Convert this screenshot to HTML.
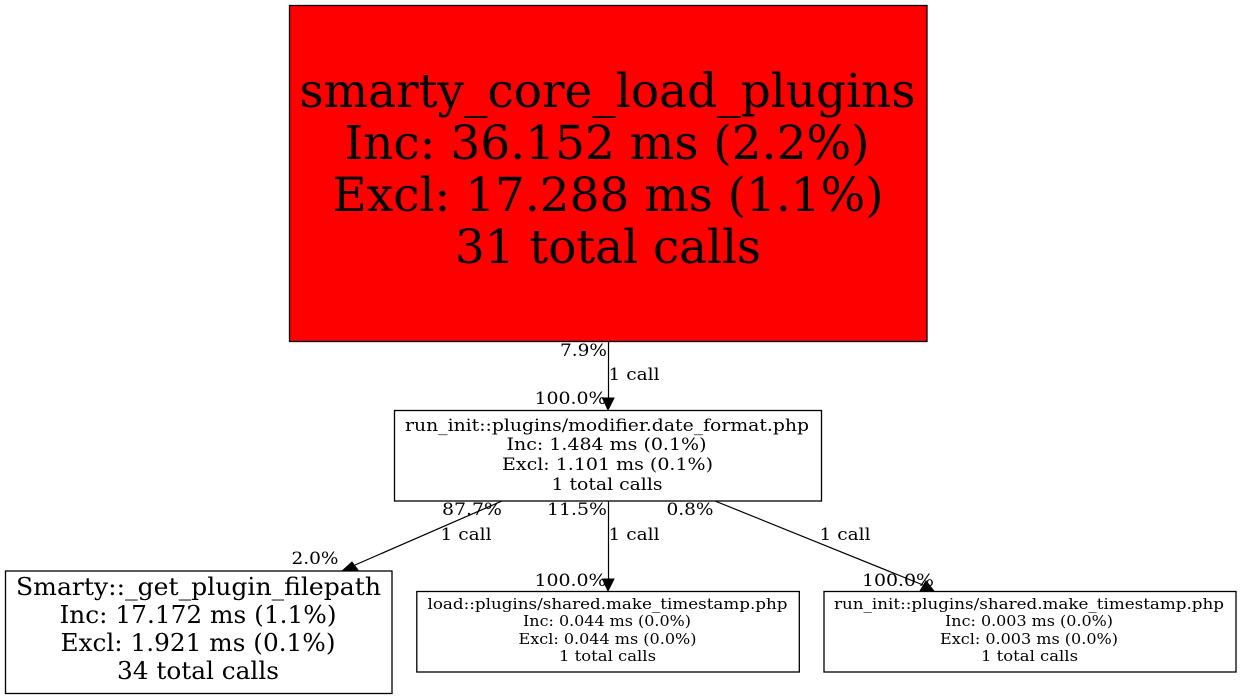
<!DOCTYPE html>
<html>
<head>
<meta charset="utf-8">
<style>
html,body{margin:0;padding:0;background:#fff;width:1240px;height:699px;overflow:hidden}
svg{display:block}
text{font-family:"DejaVu Serif",serif;fill:#000;text-anchor:middle}
.top{font-size:47px}
.mid{font-size:17.2px}
.lft{font-size:24.6px}
.sml{font-size:15.3px}
.e{font-size:17.2px}
rect.n{stroke:#000;stroke-width:1.3}
</style>
</head>
<body>
<svg width="1240" height="699" viewBox="0 0 1240 699" xmlns="http://www.w3.org/2000/svg">
<rect width="1240" height="699" fill="#fff"/>

<g stroke="#000" stroke-width="1.2" fill="none">
<path d="M608.500 342V399"/>
<path d="M502 501L355 565"/>
<path d="M608.500 501V580"/>
<path d="M715 501L923 585"/>
</g>
<g fill="#000" stroke="#000" stroke-width="1">
<polygon points="602.500,398 614,398 608,410"/>
<polygon points="352,562 358,570 342,571"/>
<polygon points="602.500,579 614,579 608,591"/>
<polygon points="926,581 920,591 934,591"/>
</g>

<rect class="n" x="289.500" y="5.500" width="637.500" height="336" fill="#ff0000"/>
<text class="top" x="607.500" y="107" textLength="616" lengthAdjust="spacingAndGlyphs">smarty_core_load_plugins</text>
<text class="top" x="607" y="159" textLength="525" lengthAdjust="spacingAndGlyphs">Inc: 36.152 ms (2.2%)</text>
<text class="top" x="608" y="211" textLength="551" lengthAdjust="spacingAndGlyphs">Excl: 17.288 ms (1.1%)</text>
<text class="top" x="608" y="263" textLength="306" lengthAdjust="spacingAndGlyphs">31 total calls</text>

<rect class="n" x="394.500" y="410.500" width="427" height="90.500" fill="#fff"/>
<text class="mid" x="607" y="431" textLength="404" lengthAdjust="spacingAndGlyphs">run_init::plugins/modifier.date_format.php</text>
<text class="mid" x="606.500" y="450" textLength="200" lengthAdjust="spacingAndGlyphs">Inc: 1.484 ms (0.1%)</text>
<text class="mid" x="607.500" y="470" textLength="211" lengthAdjust="spacingAndGlyphs">Excl: 1.101 ms (0.1%)</text>
<text class="mid" x="607" y="490" textLength="111" lengthAdjust="spacingAndGlyphs">1 total calls</text>

<rect class="n" x="5.500" y="571" width="386.500" height="122.500" fill="#fff"/>
<text class="lft" x="198.500" y="595" textLength="365" lengthAdjust="spacingAndGlyphs">Smarty::_get_plugin_filepath</text>
<text class="lft" x="198" y="623" textLength="277" lengthAdjust="spacingAndGlyphs">Inc: 17.172 ms (1.1%)</text>
<text class="lft" x="198" y="651" textLength="275" lengthAdjust="spacingAndGlyphs">Excl: 1.921 ms (0.1%)</text>
<text class="lft" x="198" y="679" textLength="162" lengthAdjust="spacingAndGlyphs">34 total calls</text>

<rect class="n" x="416.800" y="591.500" width="382.500" height="80.500" fill="#fff"/>
<text class="sml" x="607.500" y="609" textLength="360" lengthAdjust="spacingAndGlyphs">load::plugins/shared.make_timestamp.php</text>
<text class="sml" x="607" y="626" textLength="168" lengthAdjust="spacingAndGlyphs">Inc: 0.044 ms (0.0%)</text>
<text class="sml" x="607.500" y="644" textLength="178" lengthAdjust="spacingAndGlyphs">Excl: 0.044 ms (0.0%)</text>
<text class="sml" x="607.500" y="661" textLength="97" lengthAdjust="spacingAndGlyphs">1 total calls</text>

<rect class="n" x="824" y="591.500" width="412" height="80.500" fill="#fff"/>
<text class="sml" x="1029" y="609" textLength="390" lengthAdjust="spacingAndGlyphs">run_init::plugins/shared.make_timestamp.php</text>
<text class="sml" x="1029" y="626" textLength="168" lengthAdjust="spacingAndGlyphs">Inc: 0.003 ms (0.0%)</text>
<text class="sml" x="1029" y="644" textLength="178" lengthAdjust="spacingAndGlyphs">Excl: 0.003 ms (0.0%)</text>
<text class="sml" x="1029.500" y="661" textLength="97" lengthAdjust="spacingAndGlyphs">1 total calls</text>

<text class="e" x="583.500" y="356" textLength="47" lengthAdjust="spacingAndGlyphs">7.9%</text>
<text class="e" x="634" y="380" textLength="51" lengthAdjust="spacingAndGlyphs">1 call</text>
<text class="e" x="570.500" y="404" textLength="72" lengthAdjust="spacingAndGlyphs">100.0%</text>
<text class="e" x="472" y="515" textLength="60" lengthAdjust="spacingAndGlyphs">87.7%</text>
<text class="e" x="466" y="540" textLength="51" lengthAdjust="spacingAndGlyphs">1 call</text>
<text class="e" x="577" y="515" textLength="60" lengthAdjust="spacingAndGlyphs">11.5%</text>
<text class="e" x="634" y="540" textLength="51" lengthAdjust="spacingAndGlyphs">1 call</text>
<text class="e" x="690" y="515" textLength="47" lengthAdjust="spacingAndGlyphs">0.8%</text>
<text class="e" x="845" y="540" textLength="51" lengthAdjust="spacingAndGlyphs">1 call</text>
<text class="e" x="315" y="564" textLength="47" lengthAdjust="spacingAndGlyphs">2.0%</text>
<text class="e" x="570.500" y="586" textLength="72" lengthAdjust="spacingAndGlyphs">100.0%</text>
<text class="e" x="898" y="586" textLength="72" lengthAdjust="spacingAndGlyphs">100.0%</text>
</svg>
</body>
</html>
